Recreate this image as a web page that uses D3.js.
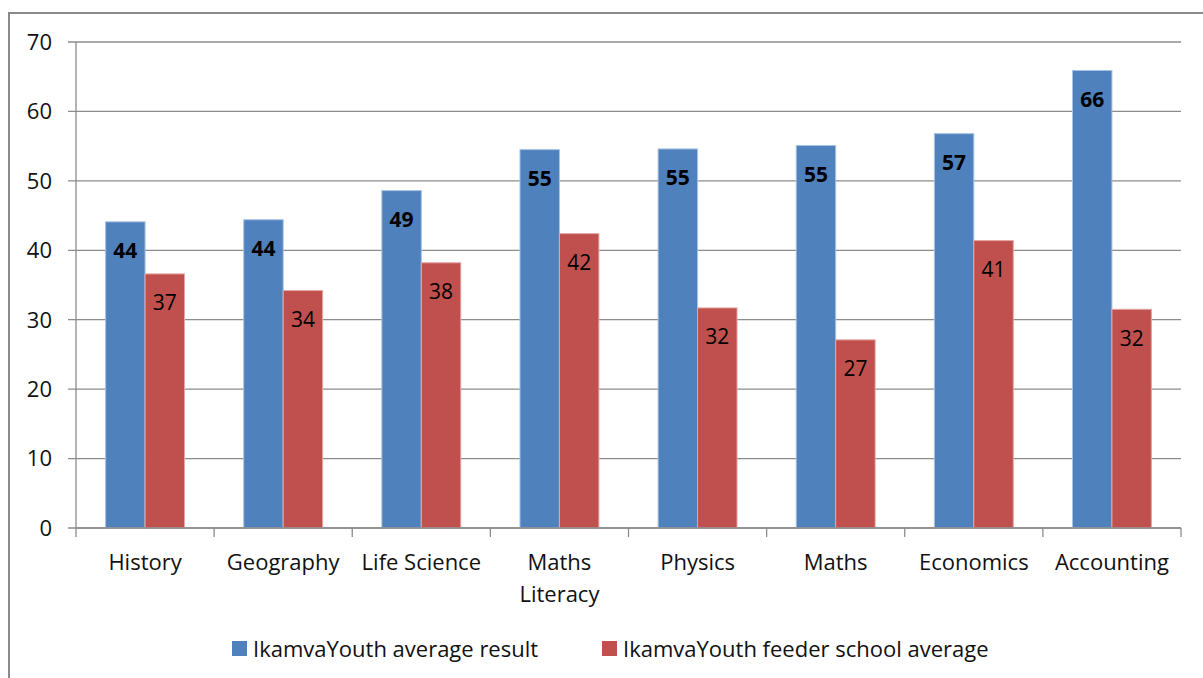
<!DOCTYPE html>
<html>
<head>
<meta charset="utf-8">
<script src="https://cdn.jsdelivr.net/npm/d3@7"></script>
<style>
  body { margin: 0; background: #fff; }
  svg { display: block; font-family: "Open Sans", Lato, sans-serif; }
</style>
</head>
<body>
<svg id="chart" width="1203" height="678"></svg>
<script>
// subjects on the x axis
var subjects = ["History", "Geography", "Life Science", "Maths Literacy", "Physics", "Maths", "Economics", "Accounting"];
var seriesNames = ["IkamvaYouth average result", "IkamvaYouth feeder school average"];
// values
var ikamvaAvg = [44.1, 44.4, 48.6, 54.5, 54.6, 55.1, 56.8, 65.9];
var feederAvg = [36.6, 34.2, 38.2, 42.4, 31.7, 27.1, 41.4, 31.5];
var yTicks = [0, 10, 20, 30, 40, 50, 60, 70];
var colors = ["#4F81BD", "#C0504D"];

var margin = {top: 42, right: 22, bottom: 150, left: 76};
var width = 1203 - margin.left - margin.right;
var height = 678 - margin.top - margin.bottom;

var svg = d3.select("#chart");

// outer frame (runs off the picture on the right and bottom)
svg.append("path")
    .attr("d", "M9,690 L9,13 L1210,13")
    .attr("fill", "none")
    .attr("stroke", "#8a8a8a")
    .attr("stroke-width", 2);

var g = svg.append("g").attr("transform", "translate(" + margin.left + "," + margin.top + ")");

var x0 = d3.scaleBand().domain(subjects).range([0, width]).padding(0);
var x1 = d3.scaleBand().domain([0, 1])
    .range([x0.bandwidth() * 0.75 / 3.5, x0.bandwidth() * 2.75 / 3.5]);
var y = d3.scaleLinear().domain([0, 70]).range([height, 0]);

// gridlines
g.selectAll("line.grid")
    .data(yTicks)
    .enter().append("line")
    .attr("class", "grid")
    .attr("x1", -8).attr("x2", width)
    .attr("y1", function(d) { return y(d); })
    .attr("y2", function(d) { return y(d); })
    .attr("stroke", "#8c8c8c")
    .attr("stroke-width", 1.3);

// y tick labels
g.selectAll("text.ytick")
    .data(yTicks)
    .enter().append("text")
    .attr("class", "ytick")
    .attr("x", -24)
    .attr("y", function(d) { return y(d); })
    .attr("dy", "0.36em")
    .attr("text-anchor", "end")
    .attr("font-size", 22)
    .attr("fill", "#111")
    .text(function(d) { return d; });

// bars
var rows = subjects.map(function(s, i) { return {subject: s, vals: [ikamvaAvg[i], feederAvg[i]]}; });

var groups = g.selectAll("g.cat")
    .data(rows)
    .enter().append("g")
    .attr("class", "cat")
    .attr("transform", function(d) { return "translate(" + x0(d.subject) + ",0)"; });

groups.selectAll("rect")
    .data(function(d) { return d.vals; })
    .enter().append("rect")
    .attr("x", function(d, i) { return x1(i); })
    .attr("width", x1.bandwidth())
    .attr("y", function(d) { return y(d); })
    .attr("height", function(d) { return height - y(d); })
    .attr("fill", function(d, i) { return colors[i]; })
    .attr("stroke", function(d, i) { return i === 0 ? "#a9c2e3" : "#e3a7a5"; })
    .attr("stroke-width", 1);

groups.selectAll("text.val")
    .data(function(d) { return d.vals; })
    .enter().append("text")
    .attr("class", "val")
    .attr("x", function(d, i) { return x1(i) + x1.bandwidth() / 2; })
    .attr("y", function(d) { return y(d) + 29; })
    .attr("dy", "0.36em")
    .attr("text-anchor", "middle")
    .attr("font-size", 21)
    .attr("font-weight", function(d, i) { return i === 0 ? "bold" : "normal"; })
    .attr("fill", "#000")
    .text(function(d) { return Math.round(d); });

// x axis line and ticks
g.append("line")
    .attr("x1", 0).attr("x2", width)
    .attr("y1", height).attr("y2", height)
    .attr("stroke", "#8c8c8c").attr("stroke-width", 1.3);
g.append("line")
    .attr("x1", 0).attr("x2", 0)
    .attr("y1", 0).attr("y2", height)
    .attr("stroke", "#8c8c8c").attr("stroke-width", 1.3);

var tickXs = subjects.map(function(s) { return x0(s); }).concat([width]);
g.selectAll("line.xtick")
    .data(tickXs)
    .enter().append("line")
    .attr("class", "xtick")
    .attr("x1", function(d) { return d; }).attr("x2", function(d) { return d; })
    .attr("y1", height).attr("y2", height + 9)
    .attr("stroke", "#8c8c8c").attr("stroke-width", 1.3);

// category labels, Maths Literacy wraps onto two lines
var xl = g.selectAll("text.xlab")
    .data(subjects)
    .enter().append("text")
    .attr("class", "xlab")
    .attr("x", function(d) { return x0(d) + x0.bandwidth() / 2; })
    .attr("y", height + 42)
    .attr("text-anchor", "middle")
    .attr("font-size", 22)
    .attr("fill", "#111");
xl.each(function(d) {
    var parts = d === "Maths Literacy" ? ["Maths", "Literacy"] : [d];
    var t = d3.select(this);
    parts.forEach(function(p, i) {
        t.append("tspan")
            .attr("x", x0(d) + x0.bandwidth() / 2)
            .attr("dy", i === 0 ? 0 : 31.5)
            .text(p);
    });
});

// legend
var legendX = [232, 602];
var legend = svg.selectAll("g.legend")
    .data(seriesNames)
    .enter().append("g")
    .attr("class", "legend")
    .attr("transform", function(d, i) { return "translate(" + legendX[i] + ",641)"; });
legend.append("rect")
    .attr("width", 15).attr("height", 15)
    .attr("fill", function(d, i) { return colors[i]; });
legend.append("text")
    .attr("x", 21)
    .attr("y", 8)
    .attr("dy", "0.36em")
    .attr("font-size", 22)
    .attr("fill", "#111")
    .text(function(d) { return d; });
</script>
</body>
</html>
